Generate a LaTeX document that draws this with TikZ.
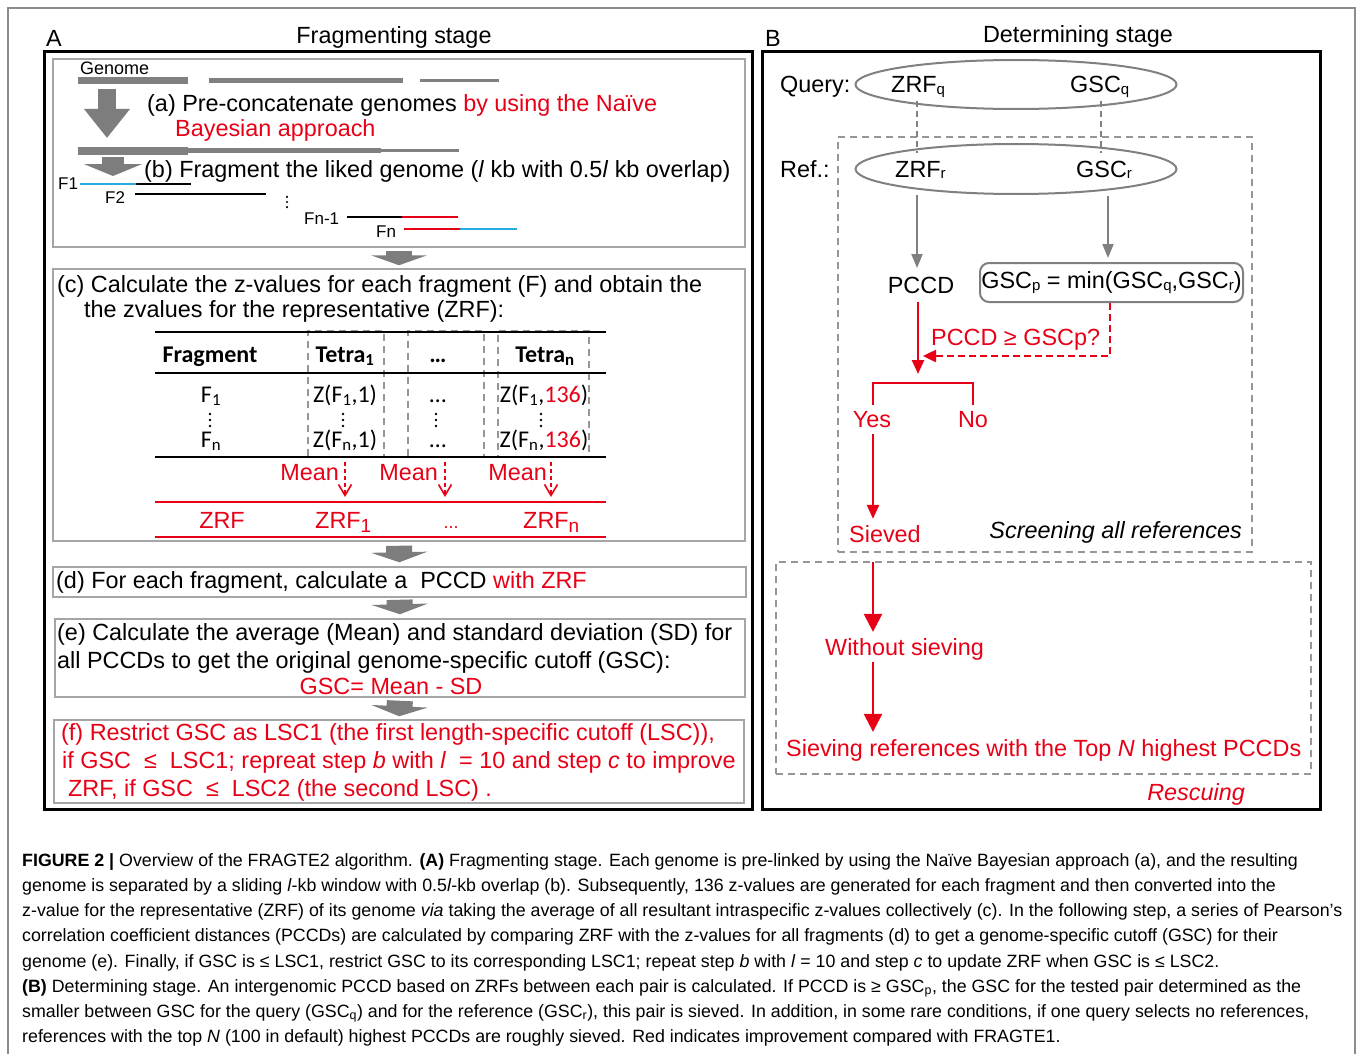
\documentclass[tikz,border=0pt]{standalone}
\usepackage{fontspec}
\setmainfont{Liberation Sans}
\newfontfamily\tabfont{Carlito}
\usetikzlibrary{shapes.geometric,arrows.meta,calc}
\definecolor{myred}{RGB}{232,0,22}
\definecolor{myblue}{RGB}{41,170,225}
\definecolor{mygray}{RGB}{128,128,128}
\definecolor{boxgray}{RGB}{165,165,165}
\definecolor{dashgray}{RGB}{150,150,150}
\definecolor{arrgray}{RGB}{125,125,125}
\definecolor{framegray}{RGB}{140,140,140}
\newcommand\msz{\fontsize{23.4}{28}\selectfont}
\newcommand\csz{\fontsize{17.8}{22}\selectfont}
\newcommand\tsz{\fontsize{24}{28}\selectfont}
\newcommand\fsz{\fontsize{17}{20}\selectfont}
\newcommand\smq[1]{\raisebox{-1.5pt}{\fontsize{15}{15}\selectfont #1}}
\newcommand\zsub[1]{\raisebox{-4pt}{\fontsize{19}{19}\selectfont #1}}
\begin{document}
\begin{tikzpicture}[x=1pt,y=-1pt,
 txt/.style={inner sep=0,font=\msz},
 captxt/.style={inner sep=0,font=\csz,anchor=base west},
 tab/.style={inner sep=0,font=\tabfont\tsz,anchor=base},
 ftxt/.style={inner sep=0,font=\fsz},
 gbox/.style={draw=boxgray,line width=1.5,inner sep=0},
 bbox/.style={draw=black,line width=3,inner sep=0},
 dbox/.style={draw=dashgray,line width=2,dash pattern=on 7pt off 5pt},
 blockarr/.style={draw=arrgray,line width=26,-{Triangle[length=10pt,width=56pt]}},
 garr/.style={draw=mygray,line width=2,-{Triangle[length=14pt,width=11pt]}},
 dline/.style={draw=mygray,line width=2,dash pattern=on 6pt off 4pt},
 rline/.style={draw=myred,line width=2.5},
 rarr/.style={rline,-{Triangle[length=14pt,width=12pt]}},
 rbig/.style={rline,-{Triangle[length=18pt,width=18pt]}},
 meanarr/.style={draw=myred,line width=1.6,dash pattern=on 4pt off 3pt,-{Straight Barb[length=11pt,width=13pt]}},
 tline/.style={draw=black,line width=2.5},
 bar1/.style={draw=mygray,line width=7},
 bar2/.style={draw=mygray,line width=5},
 bar3/.style={draw=mygray,line width=3},
 frag/.style={line width=2.5},
 vdot/.pic={\fill (0,-6) circle (1.4) (0,0) circle (1.4) (0,6) circle (1.4);},
]
\useasboundingbox (0,0) rectangle (1357,1054);
\fill[white] (0,0) rectangle (1357,1054);
\draw[framegray,line width=1.5] (8,1054) -- (8,8) -- (1355,8) -- (1355,1054);

% ---------------- Panel A ----------------
\node[txt,anchor=base west] (labA) at (46,47) {A};
\node[txt,anchor=base] (titA) at (394,44) {Fragmenting stage};
\node[bbox,minimum width=708,minimum height=757] (boxA) at (398,430.5) {};

\node[gbox,minimum width=692,minimum height=188] (box1) at (399,153) {};
\node[gbox,minimum width=692,minimum height=272] (boxc) at (399,405) {};
\node[gbox,minimum width=693,minimum height=30] (boxd) at (399.5,582) {};
\node[gbox,minimum width=690,minimum height=78] (boxe) at (400,658) {};
\node[gbox,minimum width=690,minimum height=83] (boxf) at (399,761.5) {};

\draw[blockarr,shorten <=3pt,shorten >=3pt] (box1.south) -- (boxc.north);
\draw[blockarr,shorten <=4pt,shorten >=4pt] (boxc.south) -- (boxd.north);
\draw[blockarr,shorten <=2pt,shorten >=4pt] (boxd.south) -- (boxe.north);
\draw[blockarr,shorten <=3pt,shorten >=3pt] (boxe.south) -- (boxf.north);

% box 1
\node[ftxt,font=\fontsize{18}{20}\selectfont,anchor=base west] (genome) at (80,75) {Genome};
\draw[bar1] (78,81) -- (188,81);
\draw[bar2] (209,81) -- (403,81);
\draw[bar3] (420,81) -- (499,81);
\coordinate (ga1) at (107,89);
\coordinate (ga2) at (107,138);
\draw[draw=arrgray,line width=18,-{Triangle[length=29pt,width=44pt]}] (ga1) -- (ga2);
\node[txt,anchor=base west] (ta) at (147,112) {(a) Pre-concatenate genomes \textcolor{myred}{by using the Naïve}};
\node[txt,anchor=base west,text=myred] (ta2) at (175,136) {Bayesian approach};
\draw[bar1] (78,151) -- (188,151);
\draw[bar2] (188,151) -- (381,151);
\draw[bar3] (381,151) -- (459,151);
\coordinate (gb1) at (113,157);
\coordinate (gb2) at (113,176);
\draw[draw=arrgray,line width=22,-{Triangle[length=12pt,width=58pt]}] (gb1) -- (gb2);
\node[txt,anchor=base west] (tb) at (144,177) {(b) Fragment the liked genome (\textit{l} kb with 0.5\textit{l} kb overlap)};
\node[ftxt,anchor=base west] (f1) at (58,189) {F1};
\draw[frag,myblue] (f1.east) ++(2pt,-1pt) coordinate (f1s) -- ++(56,0) coordinate (f1m);
\draw[frag,black] (f1m) -- ++(55,0);
\node[ftxt,anchor=base west] (f2) at (105,203) {F2};
\draw[frag,black] (135,194) -- (266,194);
\pic[scale=0.85] at (287,202) {vdot};
\node[ftxt,anchor=base west] (fn1) at (304,224) {Fn-1};
\draw[frag,black] (347,217) -- (402,217);
\draw[frag,myred] (402,217) -- (458,217);
\node[ftxt,anchor=base west] (fn) at (376,237) {Fn};
\draw[frag,myred] (404,229) -- (460,229);
\draw[frag,myblue] (460,229) -- (517,229);

% box c
\node[txt,anchor=base west] (tc1) at (57,292) {(c) Calculate the z-values for each fragment (F) and obtain the};
\node[txt,anchor=base west] (tc2) at (84,317) {the zvalues for the representative (ZRF):};
\node[dbox,minimum width=76,minimum height=126,inner sep=0] (col1) at (346,394) {};
\node[dbox,minimum width=76,minimum height=126,inner sep=0] (col2) at (446,394) {};
\node[dbox,minimum width=91,minimum height=126,inner sep=0] (col3) at (543.5,394) {};
\draw[tline] (155,332) -- (606,332);
\draw[tline] (155,373) -- (606,373);
\draw[tline] (155,457) -- (606,457);
\node[tab] (hfrag) at (210,362) {\textbf{Fragment}};
\node[tab] (ht1) at (345,362) {\textbf{Tetra\textsubscript{1}}};
\node[tab] (hdots) at (438,362) {\textbf{…}};
\node[tab] (htn) at (545,362) {\textbf{Tetra\textsubscript{n}}};
\node[tab] (r1a) at (211,402) {F\textsubscript{1}};
\node[tab] (r1b) at (345,402) {Z(F\textsubscript{1},1)};
\node[tab] (r1c) at (438,402) {…};
\node[tab] (r1d) at (544,402) {Z(F\textsubscript{1},\textcolor{myred}{136})};
\pic at (210,420) {vdot};
\pic at (343,420) {vdot};
\pic at (436,420) {vdot};
\pic at (541,420) {vdot};
\node[tab] (rna) at (211,447) {F\textsubscript{n}};
\node[tab] (rnb) at (345,447) {Z(F\textsubscript{n},1)};
\node[tab] (rnc) at (438,447) {…};
\node[tab] (rnd) at (544,447) {Z(F\textsubscript{n},\textcolor{myred}{136})};
\node[txt,anchor=base east,text=myred] (m1) at (339,480) {Mean};
\node[txt,anchor=base east,text=myred] (m2) at (438,480) {Mean};
\node[txt,anchor=base east,text=myred] (m3) at (547,480) {Mean};
\coordinate (ma1) at (345,462); \coordinate (mb1) at (345,497);
\coordinate (ma2) at (445,462); \coordinate (mb2) at (445,497);
\coordinate (ma3) at (551,462); \coordinate (mb3) at (551,497);
\draw[meanarr] (ma1) -- (mb1);
\draw[meanarr] (ma2) -- (mb2);
\draw[meanarr] (ma3) -- (mb3);
\draw[rline] (155,502) -- (606,502);
\draw[rline] (155,537) -- (606,537);
\node[txt,anchor=base,text=myred] (z0) at (222,528) {ZRF};
\node[txt,anchor=base west,text=myred] (z1) at (315,528) {ZRF\zsub{1}};
\node[txt,anchor=base,text=myred,font=\fontsize{18}{20}\selectfont] (z2) at (451,528) {...};
\node[txt,anchor=base west,text=myred] (z3) at (523,528) {ZRF\zsub{n}};

% box d
\node[txt,anchor=base west] (td) at (56,588) {(d) For each fragment, calculate a\ \ PCCD \textcolor{myred}{with ZRF}};
% box e
\node[txt,anchor=base west] (te1) at (57,640) {(e) Calculate the average (Mean) and standard deviation (SD) for};
\node[txt,anchor=base west] (te2) at (57,668) {all PCCDs to get the original genome-specific cutoff (GSC):};
\node[txt,anchor=base,text=myred] (te3) at (391,694) {GSC= Mean - SD};
% box f
\node[txt,anchor=base west,text=myred] (tf1) at (61,740) {(f) Restrict GSC as LSC1 (the first length-specific cutoff (LSC)),};
\node[txt,anchor=base west,text=myred] (tf2) at (62,768) {if GSC\ \ ≤\ \ LSC1; repreat step \textit{b} with \textit{l}\ \ = 10 and step \textit{c} to improve};
\node[txt,anchor=base west,text=myred] (tf3) at (68,796) {ZRF, if GSC\ \ ≤\ \ LSC2 (the second LSC) .};

% ---------------- Panel B ----------------
\node[txt,anchor=base west] (labB) at (765,47) {B};
\node[txt,anchor=base] (titB) at (1078,43) {Determining stage};
\node[bbox,minimum width=558,minimum height=757] (boxB) at (1041,430.5) {};
\node[dbox,minimum width=414,minimum height=415,inner sep=0] (screen) at (1045,344.5) {};
\node[dbox,minimum width=535,minimum height=212,inner sep=0] (rescue) at (1043.5,668) {};

\node[txt,anchor=base west] (qlab) at (780,93) {Query:};
\node[draw=mygray,line width=2,ellipse,minimum width=321,minimum height=49,inner sep=0] (qell) at (1016,84.5) {};
\node[txt,anchor=base west] (zrfq) at (891,93) {ZRF\smq{q}};
\node[txt,anchor=base west] (gscq) at (1070,93) {GSC\smq{q}};
\node[txt,anchor=base west] (rlab) at (780,177) {Ref.:};
\node[draw=mygray,line width=2,ellipse,minimum width=321,minimum height=50,inner sep=0,fill=white] (rell) at (1016,169) {};
\node[txt,anchor=base west] (zrfr) at (895,177) {ZRF\smq{r}};
\node[txt,anchor=base west] (gscr) at (1076,177) {GSC\smq{r}};
\coordinate (dq1) at (917,101); \coordinate (dr1) at (917,153);
\coordinate (dq2) at (1101,101); \coordinate (dr2) at (1101,153);
\draw[dline] (dq1) -- (dr1);
\draw[dline] (dq2) -- (dr2);

\node[txt,anchor=base] (pccd) at (921,293) {PCCD};
\node[draw=mygray,line width=2,rounded corners=9pt,minimum width=263,minimum height=39,inner sep=0,font=\msz] (gscp) at (1111.5,282.5) {GSC\smq{p} = min(GSC\smq{q},GSC\smq{r})};
\coordinate (ar1) at (917,195);
\coordinate (ar1e) at (917,268);
\draw[garr] (ar1) -- (ar1e);
\coordinate (ar2) at (1108,196);
\draw[garr,shorten >=4pt] (ar2) -- (gscp.north -| ar2);

\coordinate (col) at (918,0);
\coordinate (brk) at (918,383);
\draw[rarr,shorten <=9pt,shorten >=9pt] (col |- pccd.south) -- (brk);
\node[txt,anchor=base west,text=myred] (cond) at (931,345) {PCCD ≥ GSCp?};
\coordinate (qd) at (1110,356);
\coordinate (qtip) at (923,356);
\draw[rline,dash pattern=on 7pt off 4pt,-{Triangle[length=13pt,width=12pt]}] (gscp.south -| qd) -- (qd) -- (qtip);
\node[txt,anchor=base,text=myred] (yes) at (872,427) {Yes};
\node[txt,anchor=base,text=myred] (no) at (973,427) {No};
\coordinate (sx) at (873,0);
\draw[rline,shorten <=6pt,shorten >=6pt] (sx |- yes.north) |- (brk) -| (no.north);
\node[txt,anchor=base west,text=myred] (sieved) at (849,542) {Sieved};
\draw[rarr,shorten <=7pt,shorten >=6pt] (sx |- yes.south) -- (sx |- sieved.north);
\node[txt,anchor=base east,font=\msz\itshape] (scrtxt) at (1242,538) {Screening all references};
\node[txt,anchor=base west,text=myred] (without) at (825,655) {Without sieving};
\draw[rbig,shorten <=20pt,shorten >=6pt] (sx |- sieved.south) -- (sx |- without.north);
\node[txt,anchor=base west,text=myred] (sieving) at (786,756) {Sieving references with the Top \textit{N} highest PCCDs};
\draw[rbig,shorten <=2pt,shorten >=7pt] (sx |- without.south) -- (sx |- sieving.north);
\node[txt,anchor=base east,text=myred,font=\msz\itshape] (resc) at (1245,800) {Rescuing};

% ---------------- Caption ----------------
\node[captxt] (c1) at (22,866) {\textbf{FIGURE 2 |} Overview of the FRAGTE2 algorithm. \textbf{(A)} Fragmenting stage. Each genome is pre-linked by using the Naïve Bayesian approach (a), and the resulting};
\node[captxt] (c2) at (22,891) {genome is separated by a sliding \textit{l}-kb window with 0.5\textit{l}-kb overlap (b). Subsequently, 136 z-values are generated for each fragment and then converted into the};
\node[captxt] (c3) at (22,916) {z-value for the representative (ZRF) of its genome \textit{via} taking the average of all resultant intraspecific z-values collectively (c). In the following step, a series of Pearson’s};
\node[captxt] (c4) at (22,941) {correlation coefficient distances (PCCDs) are calculated by comparing ZRF with the z-values for all fragments (d) to get a genome-specific cutoff (GSC) for their};
\node[captxt] (c5) at (22,967) {genome (e). Finally, if GSC is ≤ LSC1, restrict GSC to its corresponding LSC1; repeat step \textit{b} with \textit{l} = 10 and step \textit{c} to update ZRF when GSC is ≤ LSC2.};
\node[captxt] (c6) at (22,992) {\textbf{(B)} Determining stage. An intergenomic PCCD based on ZRFs between each pair is calculated. If PCCD is ≥ GSC\textsubscript{p}, the GSC for the tested pair determined as the};
\node[captxt] (c7) at (22,1017) {smaller between GSC for the query (GSC\textsubscript{q}) and for the reference (GSC\textsubscript{r}), this pair is sieved. In addition, in some rare conditions, if one query selects no references,};
\node[captxt] (c8) at (22,1042) {references with the top \textit{N} (100 in default) highest PCCDs are roughly sieved. Red indicates improvement compared with FRAGTE1.};
\end{tikzpicture}
\end{document}
